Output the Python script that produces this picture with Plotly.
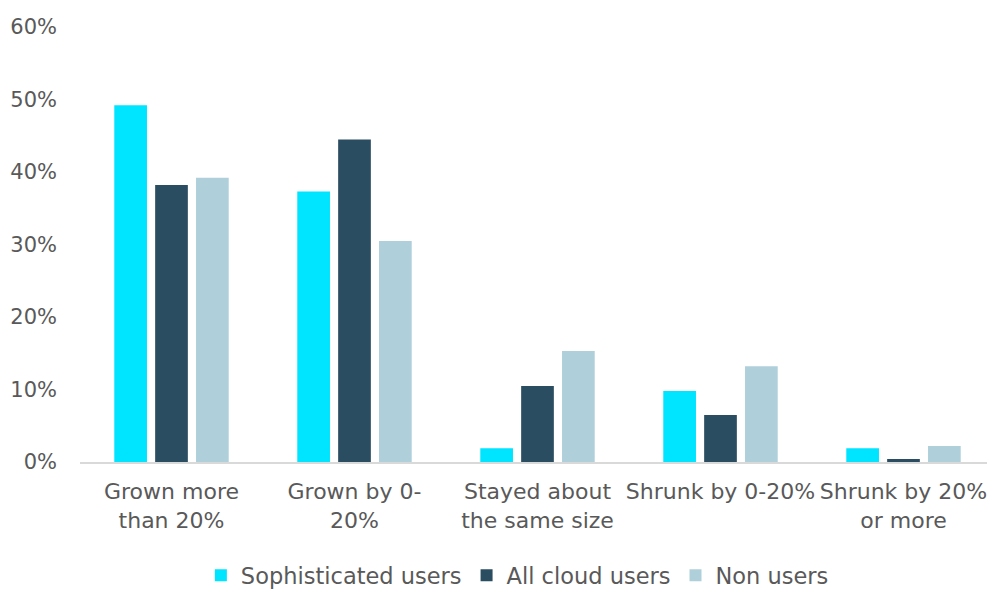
import plotly.graph_objects as go

categories = ["Grown more<br>than 20%", "Grown by 0-<br>20%", "Stayed about<br>the same size",
              "Shrunk by 0-20%", "Shrunk by 20%<br>or more"]
sophisticated = [0.492, 0.373, 0.019, 0.098, 0.019]
all_cloud = [0.382, 0.445, 0.105, 0.065, 0.004]
non_users = [0.392, 0.305, 0.153, 0.132, 0.022]

series = [
    ("Sophisticated users", sophisticated, "#00E5FF"),
    ("All cloud users", all_cloud, "#2B4D61"),
    ("Non users", non_users, "#AFD0DB"),
]

FONT = "DejaVu Sans, sans-serif"
GREY = "#595959"
fig = go.Figure()
for name, vals, col in series:
    fig.add_trace(go.Bar(x=categories, y=vals, name=name, marker_color=col,
                         marker_line_width=0))

fig.update_layout(
    width=987, height=589,
    margin=dict(l=72, r=0, t=19, b=126),
    plot_bgcolor="white", paper_bgcolor="white",
    barmode="group", bargap=0.33, bargroupgap=0.2,
    font=dict(family=FONT, size=22, color=GREY),
    showlegend=True,
    legend=dict(orientation="h", x=0.478, xanchor="center", y=-0.262, yanchor="middle",
                font=dict(size=22.5, color=GREY), itemwidth=30, traceorder="normal"),
    xaxis=dict(showgrid=False, showline=True, linecolor="#D9D9D9", linewidth=2,
               ticks="", tickangle=0, tickfont=dict(size=22, color=GREY), automargin=False,
               ticklabelstandoff=9),
    yaxis=dict(range=[0, 0.6], dtick=0.1, tickformat=".0%", showgrid=False,
               zeroline=False, showline=False, ticks="", ticklen=0, automargin=False,
               ticklabelstandoff=22,
               tickfont=dict(size=21, color=GREY)),
)

fig.write_html("out.html")
